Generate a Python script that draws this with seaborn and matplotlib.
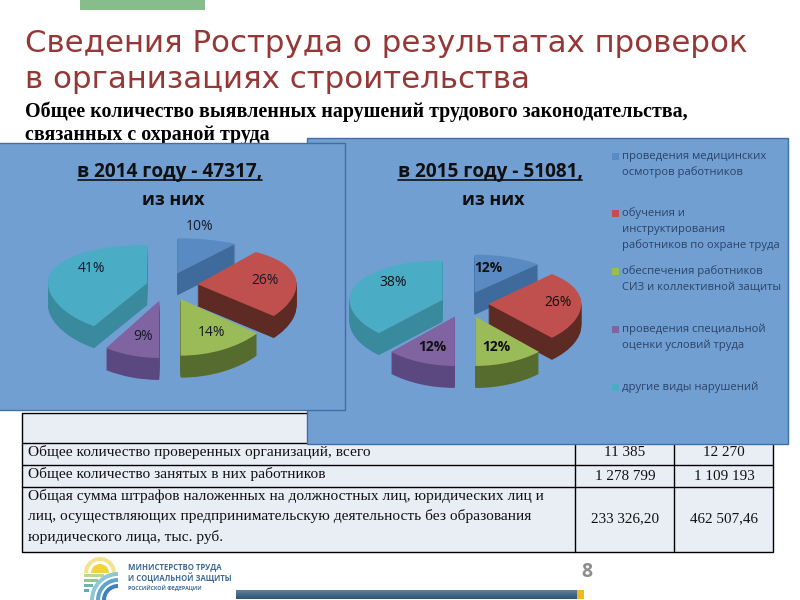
import numpy as np
import seaborn as sns
import matplotlib.pyplot as plt
from matplotlib.patches import Rectangle, Wedge
from matplotlib.transforms import offset_copy

values_2014 = [10, 26, 14, 9, 41]
values_2015 = [12, 26, 12, 12, 38]
top_colors = ['#5a8ac2', '#c0504d', '#9bbb59', '#8064a2', '#4bacc6']
side_colors = ['#3f6a9c', '#5e2a24', '#566b2e', '#5c4880', '#3a8a9e']
legend_lines = [
    ['проведения медицинских', 'осмотров работников'],
    ['обучения и', 'инструктирования', 'работников по охране труда'],
    ['обеспечения работников', 'СИЗ и коллективной защиты'],
    ['проведения специальной', 'оценки условий труда'],
    ['другие виды нарушений'],
]
row_names = [
    ['Общее количество проверенных организаций, всего'],
    ['Общее количество занятых в них работников'],
    ['Общая сумма штрафов наложенных на должностных лиц, юридических лиц и',
     'лиц, осуществляющих предпринимательскую деятельность без образования',
     'юридического лица, тыс. руб.'],
]
col_2014 = ['11 385', '1 278 799', '233 326,20']
col_2015 = ['12 270', '1 109 193', '462 507,46']

sns.set_theme(style='white')
plt.rcParams['font.family'] = ['Open Sans', 'DejaVu Sans']
top_pal = sns.color_palette(top_colors)
side_pal = sns.color_palette(side_colors)

fig = plt.figure(figsize=(8, 6), dpi=100)
bg = fig.add_axes([0, 0, 1, 1], zorder=0)
bg.set_xlim(0, 800)
bg.set_ylim(600, 0)
bg.axis('off')
fg = fig.add_axes([0, 0, 1, 1], zorder=5)
fg.set_xlim(0, 800)
fg.set_ylim(600, 0)
fg.axis('off')
fg.patch.set_alpha(0)

# top of the slide
bg.add_patch(Rectangle((80, 0), 125, 10, color='#86bd8a', lw=0))
bg.text(25, 43, 'Сведения Роструда о результатах проверок', fontsize=22.2,
        color='#953735', va='center', family='DejaVu Sans')
bg.text(25, 80, 'в организациях строительства', fontsize=22.2,
        color='#953735', va='center', family='DejaVu Sans')
bg.text(25, 112, 'Общее количество выявленных нарушений трудового законодательства,',
        fontsize=14.4, fontweight='bold', va='center', color='black', family='Liberation Serif')
bg.text(25, 135, 'связанных с охраной труда',
        fontsize=14.4, fontweight='bold', va='center', color='black', family='Liberation Serif')

# table
bg.add_patch(Rectangle((22, 413), 751, 139, fc='#e9edf4', ec='black', lw=1, zorder=1))
for y in [443, 465, 487]:
    bg.plot([22, 773], [y, y], color='black', lw=1, zorder=2)
for x in [575, 674]:
    bg.plot([x, x], [413, 552], color='black', lw=1, zorder=2)
row_y = [[452], [474], [496, 516, 537]]
for lines, ys in zip(row_names, row_y):
    for line, y in zip(lines, ys):
        bg.text(28, y, line, fontsize=11.1, va='center', color='#111111',
                family='Liberation Serif', zorder=2)
num_y = [452, 476, 519]
for a, b, y in zip(col_2014, col_2015, num_y):
    bg.text(625, y, a, fontsize=10.9, ha='center', va='center', color='#111111',
            family='Liberation Serif', zorder=2)
    bg.text(724, y, b, fontsize=10.9, ha='center', va='center', color='#111111',
            family='Liberation Serif', zorder=2)

# blue panels
bg.add_patch(Rectangle((307, 138), 481, 306, fc='#729fd2', ec='#3f6fa8', lw=1, zorder=3))
bg.add_patch(Rectangle((-5, 143), 350, 267, fc='#729fd2', ec='#3f6fa8', lw=1, zorder=4))

# footer
bar = np.linspace(0, 1, 10).reshape(-1, 1)
bg.imshow(bar, extent=(236, 577, 599, 590), aspect='auto', zorder=2,
          cmap=sns.blend_palette(['#5d7f9e', '#2f5578'], as_cmap=True))
bg.set_xlim(0, 800)
bg.set_ylim(600, 0)
bg.add_patch(Rectangle((577, 590), 7, 9, color='#f5b81c', lw=0))
bg.text(587, 572, '8', fontsize=14, fontweight='bold', color='#8c8c8c', ha='center', va='center')
for text, y, size in [('МИНИСТЕРСТВО ТРУДА', 567, 5.6), ('И СОЦИАЛЬНОЙ ЗАЩИТЫ', 578, 5.5),
                      ('РОССИЙСКОЙ ФЕДЕРАЦИИ', 588, 3.8)]:
    bg.text(128, y, text, fontsize=size, fontweight='bold', color='#3f6a94', va='center')

# logo
bg.add_patch(Wedge((100, 573), 9, 180, 360, color='#f0d33a', lw=0))
bg.add_patch(Wedge((100, 573), 16, 180, 360, width=4, color='#f3e38c', lw=0))
for y, w, c in [(574, 20, '#b9d98f'), (579, 14, '#8cc79a'), (584, 9, '#6db5a6'), (589, 5, '#63a8b5')]:
    bg.add_patch(Rectangle((84, y), w, 3, color=c, lw=0))
for r, c in [(28, '#8fc6d8'), (22, '#5fa5cf'), (16, '#3f80bf')]:
    bg.add_patch(Wedge((118, 600), r, 180, 270, width=4, color=c, lw=0))


def draw_pie(values, explode, cx, cy, a, b, rx, depth=22):
    # y axis is bent so the front of the pie looks closer than the back
    def forward(y):
        return a * y + b * y ** 2

    def inverse(s):
        return (-a + np.sqrt(np.maximum(a ** 2 + 4 * b * s, 0))) / (2 * b)

    ymin, ymax = -2.2, 2.2
    top = cy - forward(ymax)
    bottom = cy - forward(ymin)
    ax = fig.add_axes([(cx - 1.5 * rx) / 800, 1 - bottom / 600, 3 * rx / 800, (bottom - top) / 600], zorder=2)
    ax.patch.set_alpha(0)
    order = [0, 4, 1, 3, 2]
    for k in range(depth, -1, -1):
        colors = side_pal if k > 0 else top_pal
        wedges, _ = ax.pie(values, colors=colors, explode=explode, startangle=90, counterclock=False,
                           wedgeprops={'linewidth': 0})
        shift = offset_copy(ax.transData, fig=fig, x=0, y=-k, units='dots')
        for i, w in enumerate(wedges):
            w.set_transform(shift)
            w.set_clip_on(False)
            w.set_zorder(100 * order.index(i) + depth - k)
    ax.set_aspect('auto')
    ax.set_yscale('function', functions=(forward, inverse))
    ax.set_xlim(-1.5, 1.5)
    ax.set_ylim(ymin, ymax)
    ax.axis('off')


draw_pie(values_2014, [0.3, 0.3, 0.3, 0.32, 0.22], 168, 286, 46, -6.9, 99)
draw_pie(values_2015, [0.28, 0.25, 0.3, 0.3, 0.26], 465, 304, 43.75, -3.66, 93)

# pie captions
for x, name in [(170, 'в 2014 году - 47317,'), (490, 'в 2015 году - 51081,')]:
    fg.text(x, 172, name, fontsize=13.7, fontweight='bold', color='#101010', ha='center', va='center')
    fg.plot([x - 92, x + 92], [180, 180], color='#101010', lw=1.2)
    fg.text(x + 3, 200, 'из них', fontsize=13, fontweight='bold', color='#101010', ha='center', va='center')

pos_2014 = [(200, 226), (265, 280), (212, 333), (143, 337), (92, 268)]
pos_2015 = [(488, 268), (558, 302), (496, 347), (432, 347), (393, 282)]
bold_2015 = [True, False, True, True, False]
for v, (x, y) in zip(values_2014, pos_2014):
    fg.text(x, y, f'{v}%', fontsize=10, ha='center', va='center', color='#141a2a')
for v, (x, y), bd in zip(values_2015, pos_2015, bold_2015):
    fg.text(x, y, f'{v}%', fontsize=10, ha='center', va='center', color='#101010',
            fontweight='bold' if bd else 'normal')

# legend
legend_y = [156, 213, 271, 329, 387]
for lines, y0, c in zip(legend_lines, legend_y, top_pal):
    fg.add_patch(Rectangle((612, y0 - 3.5), 7, 7, color=c, lw=0))
    for j, line in enumerate(lines):
        fg.text(622, y0 + j * 16.3, line, fontsize=8.15, va='center', color='#2a4468')

plt.savefig('out.png', dpi=100)
